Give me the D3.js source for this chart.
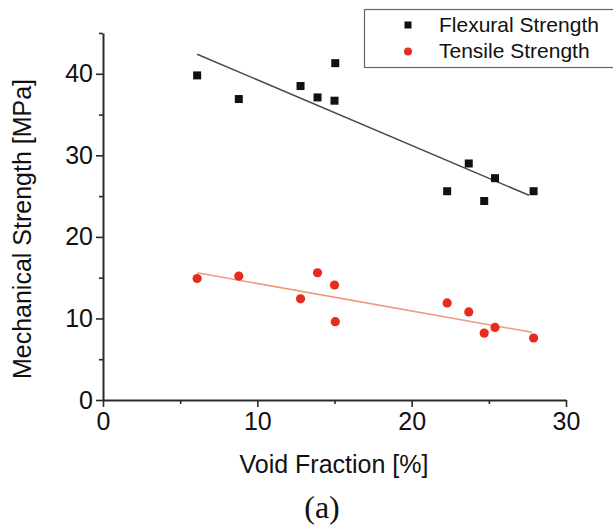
<!DOCTYPE html>
<html>
<head>
<meta charset="utf-8">
<script src="https://cdn.jsdelivr.net/npm/d3@7"></script>
<style>
  body { margin: 0; background: #fff; }
  svg { display: block; font-family: 'Liberation Sans', Arimo, sans-serif; }
  .axis path, .axis line { stroke: #2a2a2a; }
  .axis text { fill: #111; font-family: 'Liberation Sans', sans-serif; }
</style>
</head>
<body>
<svg id="chart" width="613" height="525"></svg>
<script>
'use strict';

// void fraction [%] of each sample
const voidFraction = [6.1, 8.8, 12.8, 13.9, 15.05, 15.0, 22.3, 23.7, 24.7, 25.4, 27.9];
const flexural = [39.8, 36.9, 38.5, 37.1, 41.3, 36.7, 25.6, 29.0, 24.4, 27.2, 25.6];
const voidFractionT = [6.1, 8.8, 12.8, 13.9, 15.0, 15.05, 22.3, 23.7, 24.7, 25.4, 27.9];
const tensile = [14.9, 15.2, 12.4, 15.6, 14.1, 9.6, 11.9, 10.8, 8.2, 8.9, 7.6];

// linear fit lines (endpoints)
const flexFitX = [6.1, 27.6];
const flexFitY = [42.4, 25.1];
const tensFitX = [6.1, 27.8];
const tensFitY = [15.6, 8.3];

const xTicks = [0, 10, 20, 30];
const xMinor = [5, 15, 25];
const yTicks = [0, 10, 20, 30, 40];
const yMinor = [5, 15, 25, 35, 45];

const seriesNames = ['Flexural Strength', 'Tensile Strength'];

const svg = d3.select('#chart');

const x = d3.scaleLinear().domain([0, 30]).range([103, 566]);
const y = d3.scaleLinear().domain([0, 45]).range([400, 33]);

// minor ticks first (no labels)
svg.append('g').attr('class', 'axis').attr('transform', 'translate(0, 400)')
  .call(d3.axisBottom(x).tickValues(xMinor).tickSize(4).tickFormat(''))
  .call(g => g.select('.domain').remove())
  .selectAll('line').attr('stroke-width', 1.6);
svg.append('g').attr('class', 'axis').attr('transform', 'translate(103, 0)')
  .call(d3.axisLeft(y).tickValues(yMinor).tickSize(4).tickFormat(''))
  .call(g => g.select('.domain').remove())
  .selectAll('line').attr('stroke-width', 1.6);

// major axes
const xAxis = svg.append('g').attr('class', 'axis').attr('transform', 'translate(0, 400)')
  .call(d3.axisBottom(x).tickValues(xTicks).tickSize(7).tickSizeOuter(0).tickPadding(5));
xAxis.select('.domain').attr('stroke-width', 2);
xAxis.selectAll('line').attr('stroke-width', 1.6);
xAxis.selectAll('text').attr('font-size', 25).attr('font-family', null);

const yAxis = svg.append('g').attr('class', 'axis').attr('transform', 'translate(103, 0)')
  .call(d3.axisLeft(y).tickValues(yTicks).tickSize(7).tickSizeOuter(0).tickPadding(3));
yAxis.select('.domain').attr('stroke-width', 2);
yAxis.selectAll('line').attr('stroke-width', 1.6);
yAxis.selectAll('text').attr('font-size', 25).attr('font-family', null);

// axis titles
svg.append('text')
  .attr('x', 334).attr('y', 473)
  .attr('text-anchor', 'middle')
  .attr('font-size', 25).attr('fill', '#111')
  .text('Void Fraction [%]');

svg.append('text')
  .attr('transform', 'translate(31, 229) rotate(-90)')
  .attr('text-anchor', 'middle')
  .attr('font-size', 25).attr('fill', '#111')
  .text('Mechanical Strength [MPa]');

svg.append('text')
  .attr('x', 322).attr('y', 518)
  .attr('text-anchor', 'middle')
  .attr('font-size', 32).attr('fill', '#111')
  .attr('font-family', "'Liberation Serif', 'DejaVu Serif', serif")
  .text('(a)');

// fit lines
const line = d3.line().x(d => x(d[0])).y(d => y(d[1]));
svg.append('path')
  .attr('d', line(d3.zip(flexFitX, flexFitY)))
  .attr('fill', 'none').attr('stroke', '#4a4a4a').attr('stroke-width', 1.5);
svg.append('path')
  .attr('d', line(d3.zip(tensFitX, tensFitY)))
  .attr('fill', 'none').attr('stroke', '#f0987e').attr('stroke-width', 1.5);

// points
const sq = 8;
svg.append('g').selectAll('rect')
  .data(d3.zip(voidFraction, flexural))
  .join('rect')
  .attr('x', d => x(d[0]) - sq / 2).attr('y', d => y(d[1]) - sq / 2)
  .attr('width', sq).attr('height', sq)
  .attr('fill', '#111');

svg.append('g').selectAll('circle')
  .data(d3.zip(voidFractionT, tensile))
  .join('circle')
  .attr('cx', d => x(d[0])).attr('cy', d => y(d[1]))
  .attr('r', 4.6)
  .attr('fill', '#e62a1e');

// legend
const legend = svg.append('g');
legend.append('rect')
  .attr('x', 364.5).attr('y', 9.5).attr('width', 260).attr('height', 58)
  .attr('fill', '#fff').attr('stroke', '#666').attr('stroke-width', 1.2);
legend.append('rect').attr('x', 408 - 3.5).attr('y', 25 - 3.5).attr('width', 7).attr('height', 7).attr('fill', '#111');
legend.append('circle').attr('cx', 408).attr('cy', 51.5).attr('r', 4).attr('fill', '#e62a1e');
legend.selectAll('text.lg')
  .data(seriesNames)
  .join('text')
  .attr('class', 'lg')
  .attr('x', 439).attr('y', (d, i) => 32 + i * 26)
  .attr('font-size', 21).attr('fill', '#111')
  .text(d => d);
</script>
</body>
</html>
